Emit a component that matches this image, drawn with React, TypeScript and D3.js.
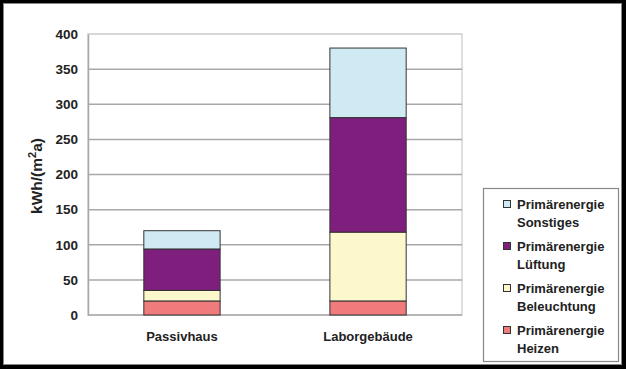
import { useEffect, useRef } from "react";
import { select, scaleLinear, scaleBand, stack, axisLeft } from "d3";

const categories = ["Passivhaus", "Laborgebäude"];
const seriesKeys = ["Heizen", "Beleuchtung", "Lüftung", "Sonstiges"];
const heizen = [20, 20];
const beleuchtung = [15, 98];
const lueftung = [59, 163];
const sonstiges = [26, 99];
const yTicks = [0, 50, 100, 150, 200, 250, 300, 350, 400];
const colors = ["#ef7b7d", "#fdf8cc", "#7e1f7e", "#d0eaf4"];

const W = 626;
const H = 369;

const App = () => {
  const svgRef = useRef<SVGSVGElement>(null);

  useEffect(() => {
    const svg = select(svgRef.current);
    svg.selectAll("*").remove();

    const font = "'Liberation Sans', Arial, sans-serif";
    const margin = { top: 34, left: 88, right: 462, bottom: 315 };

    // frame
    svg.append("rect").attr("x", 0).attr("y", 0).attr("width", W).attr("height", H).attr("fill", "#000");
    svg.append("rect").attr("x", 3).attr("y", 3).attr("width", W - 7).attr("height", H - 7).attr("fill", "#fff");
    svg
      .append("rect")
      .attr("x", 3.5)
      .attr("y", 3.5)
      .attr("width", W - 8)
      .attr("height", H - 8)
      .attr("fill", "none")
      .attr("stroke", "#888")
      .attr("stroke-width", 1);

    const rows = categories.map((c, i) => ({
      cat: c,
      Heizen: heizen[i],
      Beleuchtung: beleuchtung[i],
      "Lüftung": lueftung[i],
      Sonstiges: sonstiges[i],
    }));

    const x = scaleBand()
      .domain(categories)
      .range([margin.left, margin.right])
      .paddingInner(0.59)
      .paddingOuter(0.3);

    const y = scaleLinear().domain([0, 400]).range([margin.bottom, margin.top]);

    // plot border (top/right) and grid
    svg
      .append("rect")
      .attr("x", margin.left)
      .attr("y", margin.top)
      .attr("width", margin.right - margin.left)
      .attr("height", margin.bottom - margin.top)
      .attr("fill", "none")
      .attr("stroke", "#d4d4d4")
      .attr("stroke-width", 1.5);

    svg
      .append("g")
      .selectAll("line")
      .data(yTicks)
      .enter()
      .append("line")
      .attr("x1", margin.left)
      .attr("x2", margin.right)
      .attr("y1", (d) => y(d))
      .attr("y2", (d) => y(d))
      .attr("stroke", (d) => (d === 400 ? "#d4d4d4" : "#a8a8a8"))
      .attr("stroke-width", 1.5);

    // y axis
    const yAxis = svg
      .append("g")
      .attr("transform", `translate(${margin.left},0)`)
      .call(axisLeft(y).tickValues(yTicks).tickSize(0).tickPadding(10));
    yAxis.select(".domain").attr("stroke", "#a8a8a8").attr("stroke-width", 1.5);
    yAxis
      .selectAll("text")
      .attr("font-family", font)
      .attr("font-size", 13.5)
      .attr("font-weight", "bold")
      .attr("fill", "#222");

    const title = svg
      .append("text")
      .attr("transform", `translate(42,176) rotate(-90)`)
      .attr("text-anchor", "middle")
      .attr("font-family", font)
      .attr("font-size", 15.5)
      .attr("font-weight", "bold")
      .attr("fill", "#222");
    title.append("tspan").text("kWh/(m");
    title.append("tspan").attr("font-size", 11).attr("dy", -6).text("2");
    title.append("tspan").attr("dy", 6).text("a)");

    // stacked bars
    const stacked = stack<any>().keys(seriesKeys)(rows);
    stacked.forEach((layer, li) => {
      svg
        .append("g")
        .selectAll("rect")
        .data(layer)
        .enter()
        .append("rect")
        .attr("x", (d) => x(d.data.cat) as number)
        .attr("y", (d) => y(d[1]))
        .attr("width", x.bandwidth())
        .attr("height", (d) => y(d[0]) - y(d[1]))
        .attr("fill", colors[li])
        .attr("stroke", "#333")
        .attr("stroke-width", 1);
    });

    // category labels
    svg
      .append("g")
      .selectAll("text")
      .data(categories)
      .enter()
      .append("text")
      .attr("x", (d) => (x(d) as number) + x.bandwidth() / 2)
      .attr("y", 336)
      .attr("text-anchor", "middle")
      .attr("dominant-baseline", "central")
      .attr("font-family", font)
      .attr("font-size", 13)
      .attr("font-weight", "bold")
      .attr("fill", "#222")
      .text((d) => d);

    // legend
    const legend = svg.append("g");
    legend
      .append("rect")
      .attr("x", 483.5)
      .attr("y", 188.5)
      .attr("width", 135)
      .attr("height", 173)
      .attr("fill", "#fff")
      .attr("stroke", "#888")
      .attr("stroke-width", 1.2);

    const legendOrder = [3, 2, 1, 0];
    legendOrder.forEach((si, i) => {
      const top = 204 + i * 42;
      legend
        .append("rect")
        .attr("x", 503.5)
        .attr("y", top - 3.5)
        .attr("width", 7)
        .attr("height", 7)
        .attr("fill", colors[si])
        .attr("stroke", "#333")
        .attr("stroke-width", 1);
      const t = legend
        .append("text")
        .attr("font-family", font)
        .attr("font-size", 13)
        .attr("font-weight", "bold")
        .attr("fill", "#222");
      t.append("tspan").attr("x", 517).attr("y", top).attr("dominant-baseline", "central").text("Primärenergie");
      t.append("tspan")
        .attr("x", 517)
        .attr("y", top + 18.5)
        .attr("dominant-baseline", "central")
        .text(seriesKeys[si]);
    });
  }, []);

  return (
    <div style={{ position: "absolute", left: 0, top: 0, width: W, height: H }}>
      <svg ref={svgRef} width={W} height={H}></svg>
    </div>
  );
};

export default App;
